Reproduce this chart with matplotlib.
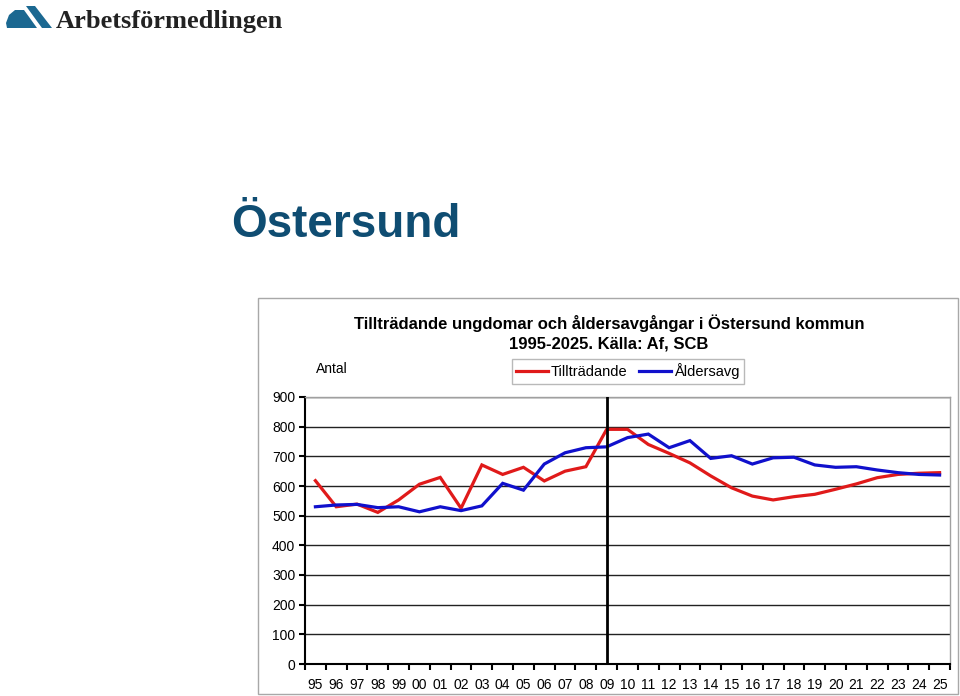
import matplotlib
matplotlib.use("Agg")
import matplotlib.pyplot as plt
from matplotlib.patches import Rectangle, Polygon

# data
years = ["95", "96", "97", "98", "99", "00", "01", "02", "03", "04", "05",
         "06", "07", "08", "09", "10", "11", "12", "13", "14", "15", "16",
         "17", "18", "19", "20", "21", "22", "23", "24", "25"]
tilltradande = [618, 530, 539, 511, 553, 606, 629, 525, 671, 639, 663,
                617, 650, 665, 791, 791, 740, 710, 678, 634, 594, 566,
                553, 564, 572, 589, 607, 628, 639, 643, 645]
aldersavg = [530, 536, 538, 527, 530, 513, 530, 517, 533, 609, 586,
             674, 712, 729, 732, 763, 775, 729, 753, 693, 702, 674,
             695, 697, 671, 663, 665, 654, 645, 639, 637]
y_ticks = [0, 100, 200, 300, 400, 500, 600, 700, 800, 900]
prognos_start = "09"

W, H = 960, 696
plt.rcParams['font.family'] = ['Liberation Sans', 'DejaVu Sans']
fig = plt.figure(figsize=(W / 100, H / 100), dpi=100)


def fx(px):
    return px / W


def fy(py):
    return 1 - py / H


# logo
logo_col = "#1b6891"
fig.patches.append(Polygon([(fx(6), fy(23)), (fx(9), fy(15)), (fx(15), fy(10)),
                            (fx(24), fy(10)), (fx(37), fy(28)), (fx(7), fy(28))],
                           closed=True, transform=fig.transFigure,
                           facecolor=logo_col, edgecolor="none"))
fig.patches.append(Polygon([(fx(26), fy(6)), (fx(35), fy(6)), (fx(52), fy(28)),
                            (fx(42), fy(28))],
                           closed=True, transform=fig.transFigure,
                           facecolor=logo_col, edgecolor="none"))
fig.text(fx(56), fy(28), "Arbetsförmedlingen", family="Liberation Serif",
         fontweight="bold", fontsize=19, color="#222222", ha="left", va="baseline")

# big heading
fig.text(fx(231), fy(237), "Östersund", fontsize=33, fontweight="bold",
         color="#0f4d72", ha="left", va="baseline")

# chart frame
fig.patches.append(Rectangle((fx(258), fy(694)), fx(958) - fx(258), fy(298) - fy(694),
                             transform=fig.transFigure, facecolor="none",
                             edgecolor="#a8a8a8", linewidth=1))

fig.text(fx(609), fy(323), "Tillträdande ungdomar och åldersavgångar i Östersund kommun",
         fontsize=12, fontweight="bold", ha="center", va="center")
fig.text(fx(609), fy(344), "1995-2025. Källa: Af, SCB",
         fontsize=12, fontweight="bold", ha="center", va="center")
fig.text(fx(316), fy(369), "Antal", fontsize=10, ha="left", va="center")

ax = fig.add_axes([fx(305), fy(664), fx(950) - fx(305), fy(397) - fy(664)])
x = list(range(len(years)))
ax.plot(x, tilltradande, color="#e01a1a", linewidth=2.3, label="Tillträdande",
        solid_joinstyle="miter", zorder=3)
ax.plot(x, aldersavg, color="#1010cc", linewidth=2.3, label="Åldersavg",
        solid_joinstyle="miter", zorder=3)
ax.axvline(years.index(prognos_start), color="black", linewidth=2, zorder=4)

ax.set_xlim(-0.5, len(years) - 0.5)
ax.set_ylim(0, 900)
ax.set_yticks(y_ticks)
ax.set_yticklabels([str(v) for v in y_ticks], fontsize=10)
ax.yaxis.grid(True, color="#222222", linewidth=1)
ax.set_axisbelow(True)
ax.set_xticks(x)
ax.set_xticklabels(years, fontsize=10)
ax.set_xticks([i - 0.5 for i in range(len(years) + 1)], minor=True)
ax.tick_params(axis="x", which="major", length=0, pad=10)
ax.tick_params(axis="x", which="minor", length=4, width=1.5, direction="out")
ax.tick_params(axis="y", length=4, width=1.5, direction="out", pad=3)
for s in ["left", "bottom"]:
    ax.spines[s].set_color("black")
    ax.spines[s].set_linewidth(1.5)
for s in ["top", "right"]:
    ax.spines[s].set_color("#a0a0a0")
    ax.spines[s].set_linewidth(1)

leg = fig.legend(loc="center", bbox_to_anchor=(fx(628), fy(371.5)), ncol=2,
                 fontsize=10.5, frameon=True, fancybox=False, handlelength=2.2,
                 handletextpad=0.2, columnspacing=0.8, borderpad=0.3)
leg.get_frame().set_edgecolor("#a8a8a8")
leg.get_frame().set_linewidth(1)

fig.savefig("out.png", dpi=100)
